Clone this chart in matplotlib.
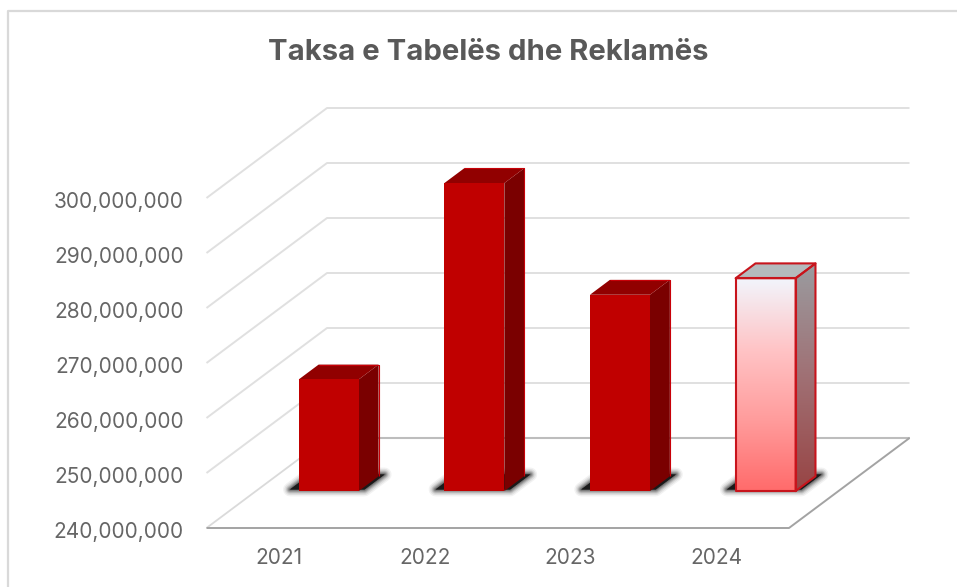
import numpy as np
import matplotlib
matplotlib.use("Agg")
import matplotlib.pyplot as plt
from matplotlib.patches import Polygon
from matplotlib.lines import Line2D
from matplotlib.colors import LinearSegmentedColormap
from matplotlib.transforms import ScaledTranslation

years = ["2021", "2022", "2023", "2024"]
values = [260300000, 296000000, 275700000, 278700000]
y_ticks = [240000000, 250000000, 260000000, 270000000, 280000000, 290000000, 300000000]
title = "Taksa e Tabelës dhe Reklamës"

W, H = 957, 587
TXT = "#666666"
FONT = "Inter"

fig = plt.figure(figsize=(W / 100, H / 100), dpi=100, facecolor="white")
x0, x1, yb, yt = 206.5, 789.0, 528.0, 198.0
ax = fig.add_axes([x0 / W, 1 - yb / H, (x1 - x0) / W, (yb - yt) / H])
ax.set_xlim(-0.5, 3.5)
ax.set_ylim(240000000, 300000000)
ax.patch.set_visible(False)
for s in ax.spines.values():
    s.set_visible(False)

cat_px = (x1 - x0) / 4
val_px = (yb - yt) / 60000000
DX = 120.5 / cat_px
DY = 90.0 / val_px


def P(x, v, d=0.0):
    return (x + d * DX, v + d * DY)


def line(pts, color, lw, z):
    ax.plot(*zip(*pts), color=color, lw=lw, zorder=z, clip_on=False, solid_capstyle="butt")


# walls and floor
xl, xr = -0.5, 3.5
base = y_ticks[0]
for v in y_ticks[1:]:
    line([P(xl, v), P(xl, v, 1), P(xr, v, 1)], "#e0e0e0", 1.4, 1)
line([P(xl, base), P(xl, base, 1)], "#dadada", 1.3, 1)
line([P(xl, base, 1), P(xr, base, 1)], "#bdbdbd", 1.5, 1.1)
line([P(xl, base), P(xr, base), P(xr, base, 1)], "#a3a3a3", 1.4, 1.2)

# bars
hw = 0.206
shift = 0.0
d0, d1 = 0.41, 0.575
red_front = "#c00000"
red_side = "#7a0000"
red_top = "#910000"
edge = "#c80008"


def poly(pts, fc, ec, lw, z, alpha=None):
    p = Polygon(pts, closed=True, fc=fc, ec=ec, lw=lw, zorder=z, clip_on=False, alpha=alpha, joinstyle="round")
    ax.add_patch(p)
    return p


def gradient(pts, colors, z):
    cmap = LinearSegmentedColormap.from_list("g", colors)
    p = poly(pts, "none", "none", 0, z)
    xs = [q[0] for q in pts]
    ys = [q[1] for q in pts]
    im = ax.imshow(np.linspace(0, 1, 256)[:, None], cmap=cmap, aspect="auto", origin="upper",
                   extent=(min(xs), max(xs), min(ys), max(ys)), zorder=z)
    im.set_clip_box(fig.bbox)
    im.set_clip_path(p)


for i, (yr, val) in enumerate(zip(years, values)):
    c = i + shift
    # soft shadow on the floor
    sx = 0.075
    shadow = [P(c - hw - sx, base, d0 + 0.018), P(c + hw + 0.025, base, d0 + 0.018),
              P(c + hw + 0.025, base, d0 + 0.185), P(c - hw - sx, base, d0 + 0.185)]
    for lw, a in [(10, 0.05), (8, 0.07), (6, 0.10), (4.5, 0.14), (3, 0.18), (1.5, 0.22)]:
        poly(shadow, "black", "black", lw, 2, alpha=a)
    poly(shadow, "#1a1a1a", "none", 0, 2.1)

    front = [P(c - hw, base, d0), P(c + hw, base, d0), P(c + hw, val, d0), P(c - hw, val, d0)]
    side = [P(c + hw, base, d0), P(c + hw, base, d1), P(c + hw, val, d1), P(c + hw, val, d0)]
    top = [P(c - hw, val, d0), P(c + hw, val, d0), P(c + hw, val, d1), P(c - hw, val, d1)]
    z = 3 + i * 0.1
    if yr == "2024":
        gradient(front, ["#f2f5fc", "#ffc4c6", "#ff9c9c", "#ff6b6b"], z)
        gradient(side, ["#9a9ca0", "#a07074", "#984444"], z)
        poly(top, "#b4babd", "none", 0, z)
        for pts in (front, side, top):
            poly(pts, "none", "#c8141c", 1.5, z + 0.01)
    else:
        poly(side, red_side, "none", 0, z)
        poly(top, red_top, "none", 0, z)
        poly(front, red_front, "none", 0, z)
        line([side[1], side[2], top[2], top[3]], edge, 0.8, z + 0.01)

ax.set_xlim(-0.5, 3.5)
ax.set_ylim(240000000, 300000000)

# axes text
ax.set_xticks(range(len(years)))
ax.set_xticklabels(years, family=FONT, fontsize=15, color=TXT)
ax.set_yticks(y_ticks)
ax.set_yticklabels([f"{v:,}" for v in y_ticks], family=FONT, fontsize=15, color=TXT, va="center_baseline")
ax.tick_params(axis="x", length=0, pad=14.7)
ax.tick_params(axis="y", length=0, pad=16.5)
nudge = ScaledTranslation(0, -2 / 100, fig.dpi_scale_trans)
for lab in ax.get_yticklabels():
    lab.set_transform(lab.get_transform() + nudge)

fig.text(488.5 / W, 1 - 53 / H, title, ha="center", va="center", family=FONT,
         fontweight="bold", fontsize=21.1, color="#595959")

# chart frame: only the top and left edges fall inside the picture
fig.add_artist(Line2D([8 / W, 8 / W, 1], [0, 1 - 10.5 / H, 1 - 10.5 / H], transform=fig.transFigure,
                      color="#d9d9d9", lw=1.6))

fig.savefig("out.png", dpi=100)
